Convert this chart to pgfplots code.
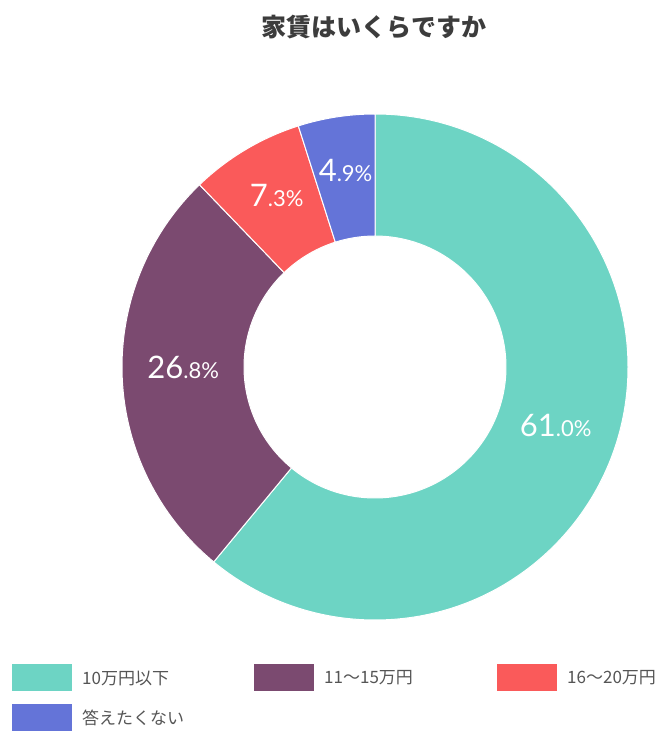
\documentclass[border=0pt]{standalone}
\usepackage{pgfplots}
\pgfplotsset{compat=1.18}
\usepackage{pgfplotstable}
\usepackage{fontspec}
\setmainfont{Lato}
\newfontfamily\jp{Noto Sans CJK JP}
\definecolor{cA}{HTML}{6DD4C4}
\definecolor{cB}{HTML}{7B4A70}
\definecolor{cC}{HTML}{FA5A5A}
\definecolor{cD}{HTML}{6474D8}
\definecolor{titlegray}{HTML}{3C3C3C}
\definecolor{leggray}{HTML}{555555}

\pgfplotstableread{
id value
1 61.0
2 26.8
3 7.3
4 4.9
}\data

\def\cx{375}
\def\cy{365}
\def\Ro{253}
\def\Ri{131}
\def\Rm{192}

\newcommand\slice[3]{%
  \fill[#3, draw=white, line width=1pt] (axis cs:{\cx+\Ro*cos(#1)},{\cy+\Ro*sin(#1)})
    arc[start angle=#1, end angle=#2, radius=\Ro pt]
    -- (axis cs:{\cx+\Ri*cos(#2)},{\cy+\Ri*sin(#2)})
    arc[start angle=#2, end angle=#1, radius=\Ri pt] -- cycle;}

\newcommand\plabel[3]{% angle, int, dec
  \node[text=white, inner sep=0pt, yshift=7pt] at (axis cs:{\cx+\Rm*cos(#1)},{\cy+\Rm*sin(#1)})
    {\fontsize{31}{31}\selectfont #2\fontsize{22}{22}\selectfont.#3\%};}

\newcommand\legitem[4]{% x, y(center), color, text
  \fill[#3] (axis cs:#1,{#2-13.5}) rectangle (axis cs:{#1+60},{#2+13.5});
  \node[anchor=west, inner sep=0pt, text=leggray] at (axis cs:{#1+70},#2)
    {\jp\fontsize{17}{17}\selectfont #4};}

\begin{document}
\begin{tikzpicture}
\useasboundingbox (0,0) rectangle (670pt,732pt);
\pgfplotstablegetelem{0}{value}\of\data \let\va\pgfplotsretval
\pgfplotstablegetelem{1}{value}\of\data \let\vb\pgfplotsretval
\pgfplotstablegetelem{2}{value}\of\data \let\vc\pgfplotsretval
\pgfplotstablegetelem{3}{value}\of\data \let\vd\pgfplotsretval
\pgfmathsetmacro\aA{90}
\pgfmathsetmacro\aB{\aA-3.6*\va}
\pgfmathsetmacro\aC{\aB-3.6*\vb}
\pgfmathsetmacro\aD{\aC-3.6*\vc}
\pgfmathsetmacro\aE{\aD-3.6*\vd}
\pgfmathsetmacro\mA{(\aA+\aB)/2}
\pgfmathsetmacro\mB{(\aB+\aC)/2}
\pgfmathsetmacro\mC{(\aC+\aD)/2}
\pgfmathsetmacro\mD{(\aD+\aE)/2}
\pgfmathtruncatemacro\iA{\va}\pgfmathtruncatemacro\dA{round(10*(\va-\iA))}
\pgfmathtruncatemacro\iB{\vb}\pgfmathtruncatemacro\dB{round(10*(\vb-\iB))}
\pgfmathtruncatemacro\iC{\vc}\pgfmathtruncatemacro\dC{round(10*(\vc-\iC))}
\pgfmathtruncatemacro\iD{\vd}\pgfmathtruncatemacro\dD{round(10*(\vd-\iD))}
\begin{axis}[x=1pt, y=1pt, xmin=0, xmax=670, ymin=0, ymax=732,
  scale only axis, hide axis, clip=false, anchor=south west, at={(0,0)}]
\slice{\aA}{\aB}{cA}
\slice{\aB}{\aC}{cB}
\slice{\aC}{\aD}{cC}
\slice{\aD}{\aE}{cD}
\plabel{\mA}{\iA}{\dA}
\plabel{\mB}{\iB}{\dB}
\plabel{\mC}{\iC}{\dC}
\plabel{\mD}{\iD}{\dD}
\node[text=titlegray, inner sep=0pt] at (axis cs:374,705)
  {\jp\bfseries\fontsize{25}{25}\selectfont 家賃はいくらですか};
\legitem{12}{54}{cA}{10万円以下}
\legitem{254}{54}{cB}{11〜15万円}
\legitem{497}{54}{cC}{16〜20万円}
\legitem{12}{14}{cD}{答えたくない}
\end{axis}
\end{tikzpicture}
\end{document}
